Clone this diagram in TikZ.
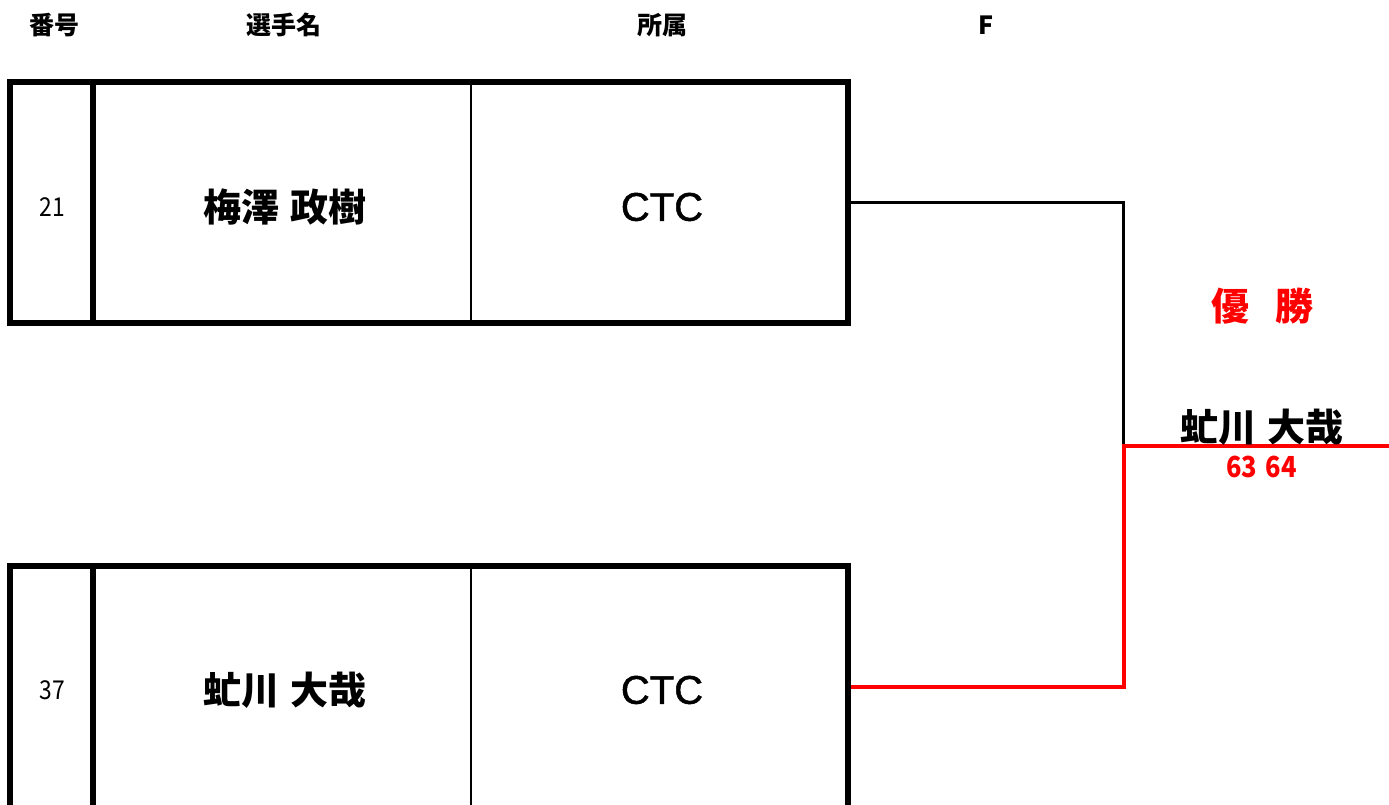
\documentclass[tikz,border=0pt]{standalone}
\usepackage{fontspec}
\newfontfamily\jp{Noto Sans CJK JP}
\newfontfamily\jpn{Noto Sans CJK JP}[FakeStretch=0.88]
\newfontfamily\lat{Liberation Sans}[FakeBold=1.2]
\definecolor{winred}{RGB}{255,0,0}
\begin{document}
\begin{tikzpicture}[x=1pt,y=-1pt,
  hdr/.style={font=\jp\bfseries\fontsize{25}{25}\selectfont, inner sep=0pt},
  numtxt/.style={font=\jpn\fontsize{26}{26}\selectfont, inner sep=0pt},
  nametxt/.style={font=\jp\bfseries\fontsize{38}{38}\selectfont, inner sep=0pt},
  clubtxt/.style={font=\lat\fontsize{40}{40}\selectfont, inner sep=0pt},
  rowbox/.style={draw, line width=6pt, minimum width=838pt, inner sep=0pt},
  thickdiv/.style={line width=6pt},
  thindiv/.style={line width=2pt},
  loser/.style={line width=2.5pt},
  winner/.style={line width=4pt, draw=winred},
  redtxt/.style={text=winred}
]
\useasboundingbox (0,0) rectangle (1389,805);
\clip (0,0) rectangle (1389,805);

% headers
\node[hdr] (h1) at (54,25) {番号};
\node[hdr] (h2) at (283.5,25) {選手名};
\node[hdr] (h3) at (662,25) {所属};
\node[hdr] (h4) at (986.5,25) {F};

% row 1
\node[rowbox, minimum height=241pt] (p1) at (429,202.5) {};
\draw[thickdiv] (93,82) -- (93,323);
\draw[thindiv] (471,82) -- (471,323);
\node[numtxt] (n1) at (52,207) {21};
\node[nametxt] (m1) at (285,207) {梅澤\hspace{0.27em}政樹};
\node[clubtxt] (c1) at (662,207) {CTC};

% row 2 (continues below the picture)
\node[rowbox, minimum height=260pt, anchor=north] (p2) at (429,563) {};
\draw[thickdiv] (93,566) -- (93,830);
\draw[thindiv] (471,566) -- (471,830);
\node[numtxt] (n2) at (52,690) {37};
\node[nametxt] (m2) at (285,690) {虻川\hspace{0.27em}大哉};
\node[clubtxt] (c2) at (662,690) {CTC};

% bracket
\coordinate (j) at (1123.5,445.5);
\coordinate (wend) at (1392,445.5);
\draw[loser] (p1.east) -| (j);
\draw[winner] ([yshift=-124pt]p2.north east) -| (j) -- (wend);

% winner
\node[nametxt, redtxt] (title) at (1262.5,306) {優\hspace{0.7em}勝};
\node[nametxt] (champ) at (1262,427) {虻川\hspace{0.27em}大哉};
\node[font=\jpn\bfseries\fontsize{29}{29}\selectfont, inner sep=0pt, redtxt] (score) at (1261.5,467) {63\hspace{0.3em}64};
\end{tikzpicture}
\end{document}
